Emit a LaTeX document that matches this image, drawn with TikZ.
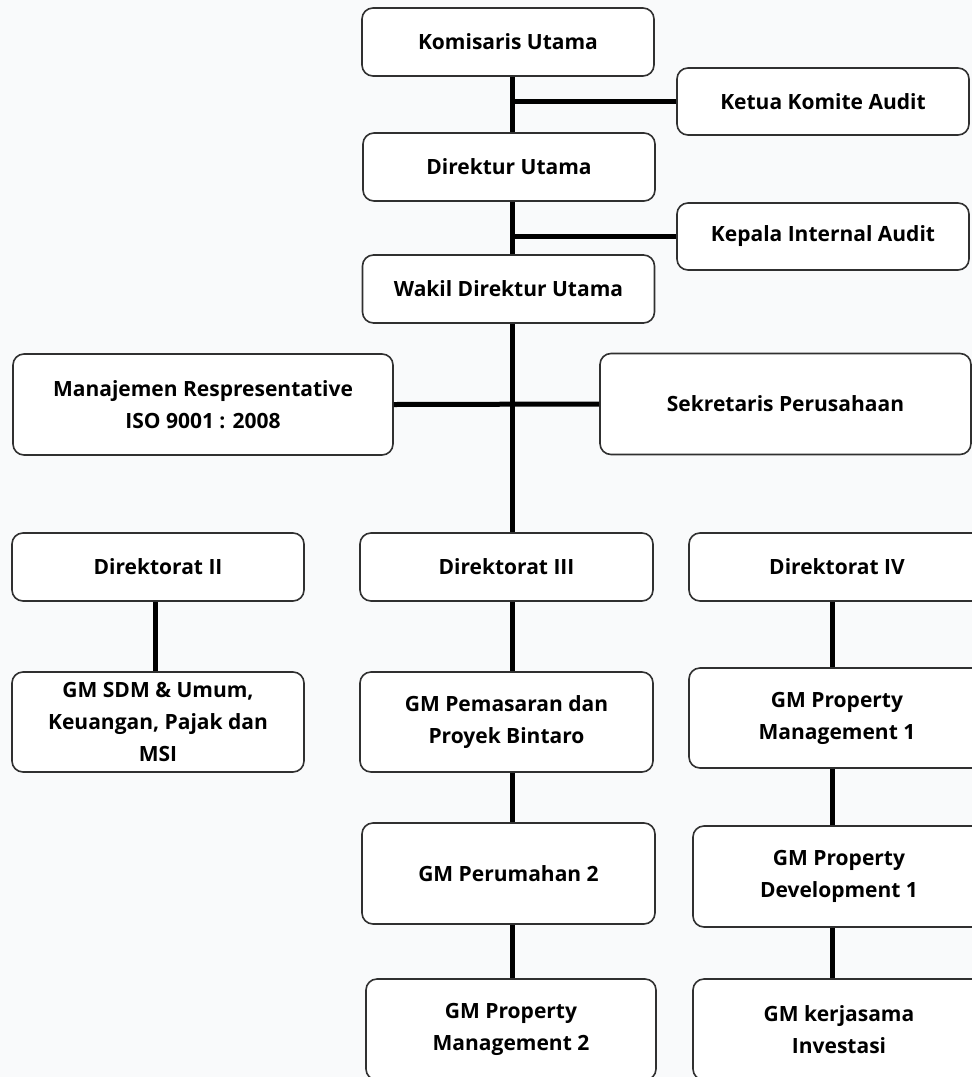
\documentclass[tikz,border=0pt]{standalone}
\usepackage{fontspec}
\setmainfont{Open Sans}
\usetikzlibrary{positioning}

\definecolor{pagebg}{HTML}{F9FAFB}
\definecolor{boxline}{HTML}{303030}

\begin{document}
\begin{tikzpicture}[x=1pt,y=-1pt]
    \tikzstyle{box}=[rectangle,rounded corners=11pt,draw=boxline,line width=1.6pt,fill=white,
                     font=\fontsize{21}{32}\selectfont\bfseries,align=center,inner sep=0pt]
    \tikzstyle{head}=[box,minimum width=292pt,minimum height=68pt]    % one line boxes
    \tikzstyle{unit}=[box,minimum width=292pt,minimum height=101pt]   % GM boxes
    \tikzstyle{link}=[line width=5pt,draw=black]

    \fill[pagebg] (0,0) rectangle (972,1077);
    \useasboundingbox (0,0) rectangle (972,1077);

    % x of the three vertical lines
    \coordinate (lspine) at (155,0);
    \coordinate (spine) at (512,0);
    \coordinate (rspine) at (832,0);

    \node[head] (komut) at (508,42) {Komisaris Utama};
    \node[head,minimum height=67pt] (ketua) at (823,101.5) {Ketua Komite Audit};
    \node[head] (dirut) at (509,167) {Direktur Utama};
    \node[head,minimum height=67pt] (kia) at (823,236.5) {Kepala Internal Audit};
    \node[head] (wadir) at (508.5,289) {Wakil Direktur Utama};

    \node[unit,minimum width=380pt] (mr) at (203,404.5) {Manajemen Respresentative\\ISO 9001 : 2008};
    \node[unit,minimum width=371pt] (sekper) at (785.5,404) {Sekretaris Perusahaan};

    \node[head] (dir2) at (158,567) {Direktorat II};
    \node[head,minimum width=293pt] (dir3) at (506.5,567) {Direktorat III};
    \node[head,minimum width=296pt] (dir4) at (837,567) {Direktorat IV};

    \node[unit,minimum height=100pt] (gmsdm) at (158,722) {GM SDM \& Umum,\\Keuangan, Pajak dan\\MSI};
    \node[unit,minimum width=293pt,minimum height=100pt] (gmpem) at (506.5,722) {GM Pemasaran dan\\Proyek Bintaro};
    \node[unit,minimum width=296pt,minimum height=100pt] (gmpm1) at (837,718) {GM Property\\Management 1};

    \node[unit,minimum width=293pt] (gmper) at (508.5,873.5) {GM Perumahan 2};
    \node[unit,minimum width=292pt] (gmpd1) at (839,876.5) {GM Property\\Development 1};

    \node[unit,minimum width=290pt] (gmpm2) at (511,1029.5) {GM Property\\Management 2};
    \node[unit,minimum width=292pt] (gmkerja) at (839,1029.5) {GM kerjasama\\Investasi};

    % main line
    \draw[link] (komut.south -| spine) -- (dirut.north -| spine);
    \draw[link] (dirut.south -| spine) -- (wadir.north -| spine);
    \draw[link] (wadir.south -| spine) -- (dir3.north -| spine);
    \draw[link] (ketua.west) -- (ketua.west -| spine);
    \draw[link] (kia.west) -- (kia.west -| spine);
    \draw[link] (mr.east) -- (sekper.west);

    % directorates
    \draw[link] (dir2.south -| lspine) -- (gmsdm.north -| lspine);
    \draw[link] (dir3.south -| spine) -- (gmpem.north -| spine);
    \draw[link] (gmpem.south -| spine) -- (gmper.north -| spine);
    \draw[link] (gmper.south -| spine) -- (gmpm2.north -| spine);
    \draw[link] (dir4.south -| rspine) -- (gmpm1.north -| rspine);
    \draw[link] (gmpm1.south -| rspine) -- (gmpd1.north -| rspine);
    \draw[link] (gmpd1.south -| rspine) -- (gmkerja.north -| rspine);
\end{tikzpicture}
\end{document}
